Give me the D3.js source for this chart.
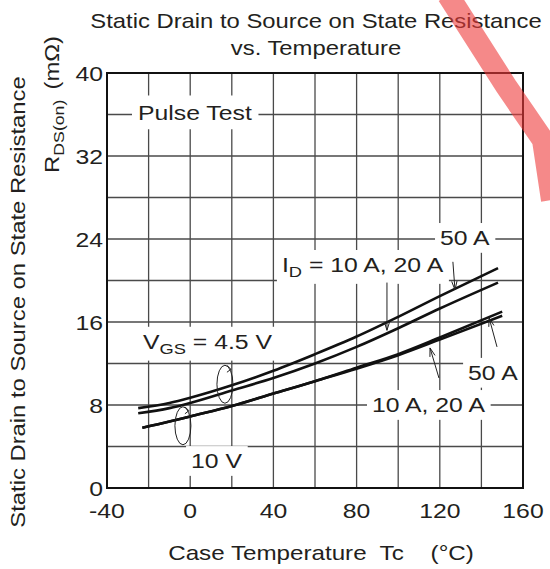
<!DOCTYPE html>
<html>
<head>
<meta charset="utf-8">
<script src="https://cdn.jsdelivr.net/npm/d3@7"></script>
<style>
  body { margin: 0; background: #fff; }
  text { font-family: "Liberation Sans", Arial, sans-serif; fill: #231f20; }
</style>
</head>
<body>
<svg id="chart" width="550" height="569"></svg>
<script>
// temperature (°C) sample points
var temps45 = [-25, -10, 0, 20, 40, 60, 80, 100, 120, 148];
var temps10 = [-23, -10, 0, 20, 40, 60, 80, 100, 120, 150];
// RDS(on) in mOhm
var vgs45_50A = [7.7, 8.2, 8.7, 9.9, 11.3, 12.9, 14.6, 16.5, 18.5, 21.2];
var vgs45_10A = [7.2, 7.7, 8.2, 9.4, 10.6, 12.0, 13.6, 15.4, 17.3, 19.8];
var vgs10_50A = [5.8, 6.4, 6.9, 7.9, 9.1, 10.3, 11.6, 12.9, 14.5, 17.0];
var vgs10_10A = [5.8, 6.4, 6.9, 7.9, 9.1, 10.3, 11.5, 12.8, 14.3, 16.6];

var xTicks = [-40, 0, 40, 80, 120, 160];
var yTicks = [0, 8, 16, 24, 32, 40];

var SX = 1.18; // reference type is set wide
var svg = d3.select("#chart");

var x = d3.scaleLinear().domain([-40, 160]).range([107, 523]);
var y = d3.scaleLinear().domain([0, 40]).range([488, 73]);

// wide text helper: anchored at (px,py), stretched horizontally
function wtext(parent, px, py, size, anchor) {
  return parent.append("g")
    .attr("transform", "translate(" + px + "," + py + ") scale(" + SX + ",1)")
    .append("text")
    .attr("font-size", size)
    .attr("text-anchor", anchor || "start");
}

// grid
var grid = svg.append("g");
grid.selectAll(".vg").data(d3.range(-20, 160, 20)).enter()
  .append("line")
  .attr("x1", function(d) { return x(d); }).attr("x2", function(d) { return x(d); })
  .attr("y1", y(0)).attr("y2", y(40))
  .attr("stroke", "#4a4a4a").attr("stroke-width", 1.3);
grid.selectAll(".hg").data(d3.range(4, 40, 4)).enter()
  .append("line")
  .attr("y1", function(d) { return y(d); }).attr("y2", function(d) { return y(d); })
  .attr("x1", x(-40)).attr("x2", x(160))
  .attr("stroke", "#4a4a4a").attr("stroke-width", 1.3);

// curves
var line = d3.line().curve(d3.curveMonotoneX);
function series(ts, vs) { return ts.map(function(t, i) { return [x(t), y(vs[i])]; }); }
var curves = [series(temps45, vgs45_50A), series(temps45, vgs45_10A),
              series(temps10, vgs10_50A), series(temps10, vgs10_10A)];
svg.append("g").selectAll("path").data(curves).enter()
  .append("path")
  .attr("d", line)
  .attr("fill", "none")
  .attr("stroke", "#111")
  .attr("stroke-width", 2.6);

// labels with white boxes that cut the grid
var labels = [
  {t: -25.1, r: 35.5, parts: [["Pulse Test"]], px: 6, py: 5},
  {t: 120.1, r: 23.4, parts: [["50 A"]], px: 5, py: 3},
  {t: 44.1, r: 20.8, parts: [["I"], ["D", "sub"], [" = 10 A, 20 A"]], px: 5, py: 3},
  {t: -22.7, r: 13.4, parts: [["V"], ["GS", "sub"], [" = 4.5 V"]], px: 5, py: 3},
  {t: 0.4, r: 1.9, parts: [["10 V"]], px: 5, py: 3},
  {t: 133.6, r: 10.4, parts: [["50 A"]], px: 5, py: 3},
  {t: 87.4, r: 7.3, parts: [["10 A, 20 A"]], px: 5, py: 3}
];
var lab = svg.append("g");
labels.forEach(function(L) {
  var g = lab.append("g")
    .attr("transform", "translate(" + x(L.t) + "," + y(L.r) + ") scale(" + SX + ",1)");
  var rect = g.append("rect").attr("fill", "#fff");
  var txt = g.append("text").attr("font-size", 21);
  L.parts.forEach(function(p, i) {
    var ts = txt.append("tspan").text(p[0]);
    if (p[1] == "sub") ts.attr("font-size", 15.5).attr("dy", 5);
    else if (i > 0) ts.attr("dy", -5);
  });
  var bb = txt.node().getBBox();
  var pxs = L.px / SX;
  rect.attr("x", bb.x - pxs).attr("y", bb.y - L.py)
    .attr("width", bb.width + 2 * pxs).attr("height", bb.height + 2 * L.py);
});

// arrows pointing at curves
var arrows = [
  [[126.3, 21.8], [127.3, 19.1]],
  [[94.6, 19.8], [94.6, 15.2]],
  [[147.5, 13.6], [143.7, 16.4]],
  [[119.6, 10.6], [115.3, 13.5]]
];
var arr = svg.append("g").attr("stroke", "#222").attr("stroke-width", 1).attr("fill", "none");
arrows.forEach(function(a) {
  var x0 = x(a[0][0]), y0 = y(a[0][1]), x1 = x(a[1][0]), y1 = y(a[1][1]);
  var ang = Math.atan2(y1 - y0, x1 - x0), h = 9, w = 0.3;
  arr.append("line").attr("x1", x0).attr("y1", y0).attr("x2", x1).attr("y2", y1);
  arr.append("path").attr("d",
    "M" + (x1 - h * Math.cos(ang - w)) + "," + (y1 - h * Math.sin(ang - w)) +
    "L" + x1 + "," + y1 +
    "L" + (x1 - h * Math.cos(ang + w)) + "," + (y1 - h * Math.sin(ang + w)));
});

// loops marking curve groups
var loops = [[16.7, 10.0], [-3.5, 6.0]];
loops.forEach(function(l) {
  var cx = x(l[0]), cy = y(l[1]);
  arr.append("ellipse").attr("cx", cx).attr("cy", cy).attr("rx", 8).attr("ry", 19);
  arr.append("path").attr("d", "M" + (cx + 2) + "," + (cy - 19) + "l4,4 l-4,3");
});

// frame
svg.append("rect")
  .attr("x", x(-40)).attr("y", y(40))
  .attr("width", x(160) - x(-40)).attr("height", y(0) - y(40))
  .attr("fill", "none").attr("stroke", "#111").attr("stroke-width", 2);

// tick labels
xTicks.forEach(function(d) {
  wtext(svg, x(d), 518, 21, "middle").text(d);
});
yTicks.forEach(function(d) {
  wtext(svg, 103, y(d) + 7.5, 21, "end").text(d);
});

// titles
wtext(svg, 316, 28, 20.2, "middle").text("Static Drain to Source on State Resistance");
wtext(svg, 316, 55, 20.2, "middle").text("vs. Temperature");
wtext(svg, 321, 560, 20.5, "middle").attr("xml:space", "preserve")
  .text("Case Temperature  Tc    (\u00b0C)");

svg.append("g").attr("transform", "translate(25,302) rotate(-90) scale(" + SX + ",1)")
  .append("text").attr("text-anchor", "middle").attr("font-size", 20.2)
  .text("Static Drain to Source on State Resistance");
var yl = svg.append("g").attr("transform", "translate(59,36) rotate(-90) scale(" + SX + ",1)")
  .append("text").attr("text-anchor", "end").attr("font-size", 20.2);
yl.append("tspan").text("R");
yl.append("tspan").attr("font-size", 15).attr("dy", 5).text("DS(on)");
yl.append("tspan").attr("dy", -5).attr("dx", 3).text(" (m\u03a9)");

// red watermark stroke over the top right corner
svg.append("path")
  .attr("d", "M448,-5 L506,86 L543,140 L552,200")
  .attr("fill", "none")
  .attr("stroke", "#ef3b3b").attr("stroke-opacity", 0.6)
  .attr("stroke-width", 22);
</script>
</body>
</html>
